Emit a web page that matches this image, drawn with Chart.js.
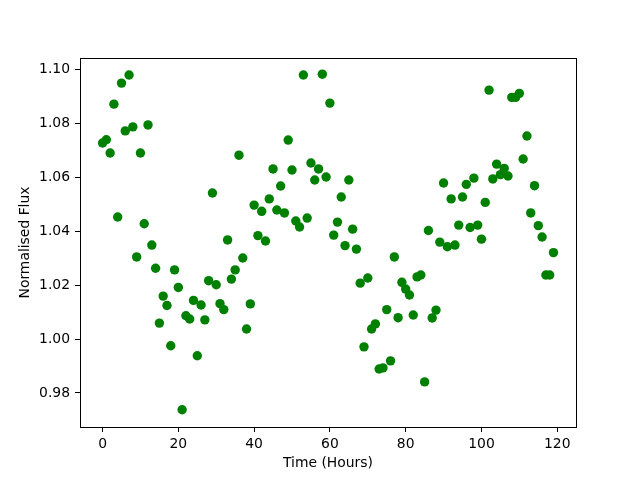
<!DOCTYPE html>
<html>
<head>
<meta charset="utf-8">
<script src="https://cdn.jsdelivr.net/npm/chart.js@4"></script>
<style>
  html, body { margin: 0; padding: 0; background: #fff; }
  #wrap { width: 640px; height: 480px; }
</style>
</head>
<body>
<div id="wrap"><canvas id="fluxChart" width="640" height="480"></canvas></div>
<script>
// time of each measurement (hours)
const hours = [0, 1, 2, 3, 4, 5, 6, 7, 8, 9, 10, 11, 12, 13, 14, 15, 16, 17, 18, 19,
  20, 21, 22, 23, 24, 25, 26, 27, 28, 29, 30, 31, 32, 33, 34, 35, 36, 37, 38, 39,
  40, 41, 42, 43, 44, 45, 46, 47, 48, 49, 50, 51, 52, 53, 54, 55, 56, 57, 58, 59,
  60, 61, 62, 63, 64, 65, 66, 67, 68, 69, 70, 71, 72, 73, 74, 75, 76, 77, 78, 79,
  80, 81, 82, 83, 84, 85, 86, 87, 88, 89, 90, 91, 92, 93, 94, 95, 96, 97, 98, 99,
  100, 101, 102, 103, 104, 105, 106, 107, 108, 109, 110, 111, 112, 113, 114, 115, 116, 117, 118, 119];

// normalised flux
const flux = [1.0726, 1.0738, 1.0689, 1.0870, 1.0452, 1.0948, 1.0771, 1.0978, 1.0786, 1.0304,
  1.0689, 1.0427, 1.0793, 1.0348, 1.0262, 1.0059, 1.0159, 1.0124, 0.9975, 1.0256,
  1.0191, 0.9738, 1.0086, 1.0074, 1.0143, 0.9938, 1.0126, 1.0071, 1.0216, 1.0541,
  1.0201, 1.0131, 1.0109, 1.0367, 1.0222, 1.0256, 1.0681, 1.0300, 1.0037, 1.0130,
  1.0496, 1.0383, 1.0473, 1.0363, 1.0519, 1.0630, 1.0478, 1.0567, 1.0467, 1.0737,
  1.0626, 1.0437, 1.0415, 1.0978, 1.0448, 1.0652, 1.0589, 1.0630, 1.0981, 1.0600,
  1.0874, 1.0385, 1.0433, 1.0526, 1.0346, 1.0589, 1.0407, 1.0333, 1.0207, 0.9971,
  1.0226, 1.0037, 1.0056, 0.9889, 0.9893, 1.0109, 0.9919, 1.0304, 1.0079, 1.0210,
  1.0185, 1.0163, 1.0089, 1.0230, 1.0237, 0.9841, 1.0402, 1.0078, 1.0107, 1.0359,
  1.0578, 1.0342, 1.0519, 1.0348, 1.0422, 1.0526, 1.0573, 1.0413, 1.0596, 1.0422,
  1.0370, 1.0506, 1.0922, 1.0593, 1.0648, 1.0609, 1.0632, 1.0604, 1.0895, 1.0895,
  1.0910, 1.0667, 1.0752, 1.0467, 1.0568, 1.0420, 1.0378, 1.0237, 1.0237, 1.0320];

const xTicks = [0, 20, 40, 60, 80, 100, 120];
const yTicks = [0.98, 1.00, 1.02, 1.04, 1.06, 1.08, 1.10];

Chart.defaults.font.family = "'DejaVu Sans', sans-serif";
Chart.defaults.font.size = 13.9;
Chart.defaults.color = '#000';

const points = [];
for (let i = 0; i < hours.length; i++) {
    points.push({ x: hours[i], y: flux[i] });
}

// matplotlib style box around the plot
const frame = {
    id: 'frame',
    afterDraw(chart) {
        const a = chart.chartArea;
        const ctx = chart.ctx;
        ctx.save();
        ctx.strokeStyle = '#000';
        ctx.lineWidth = 1;
        ctx.strokeRect(Math.round(a.left) + 0.5, Math.round(a.top) + 0.5,
            Math.round(a.right - a.left), Math.round(a.bottom - a.top));
        ctx.restore();
    }
};

new Chart('fluxChart', {
    type: 'scatter',
    data: {
        datasets: [{
            data: points,
            backgroundColor: 'green',
            borderWidth: 0,
            pointRadius: 4.7,
            pointHoverRadius: 4.7
        }]
    },
    options: {
        responsive: false,
        animation: false,
        layout: { padding: { top: 58, right: 64, left: 0, bottom: 0 } },
        plugins: {
            legend: { display: false },
            tooltip: { enabled: false }
        },
        scales: {
            x: {
                type: 'linear',
                min: -5.95,
                max: 124.95,
                afterFit: function (scale) { scale.height = 53; },
                afterBuildTicks: function (scale) {
                    scale.ticks = xTicks.map(v => ({ value: v }));
                },
                ticks: { padding: 4, maxRotation: 0, autoSkip: false,
                    callback: v => String(v) },
                grid: { drawOnChartArea: false, drawTicks: true, tickLength: 5, color: '#000' },
                border: { display: false },
                title: { display: true, text: 'Time (Hours)', padding: { top: 0, bottom: 8.5 } }
            },
            y: {
                min: 0.9674,
                max: 1.1041,
                afterFit: function (scale) { scale.width = 80; },
                afterBuildTicks: function (scale) {
                    scale.ticks = yTicks.map(v => ({ value: v }));
                },
                ticks: { padding: 5, autoSkip: false,
                    callback: v => v.toFixed(2) },
                grid: { drawOnChartArea: false, drawTicks: true, tickLength: 5, color: '#000' },
                border: { display: false },
                title: { display: true, text: 'Normalised Flux', padding: { top: 17.5, bottom: 0 } }
            }
        }
    },
    plugins: [frame]
});
</script>
</body>
</html>
